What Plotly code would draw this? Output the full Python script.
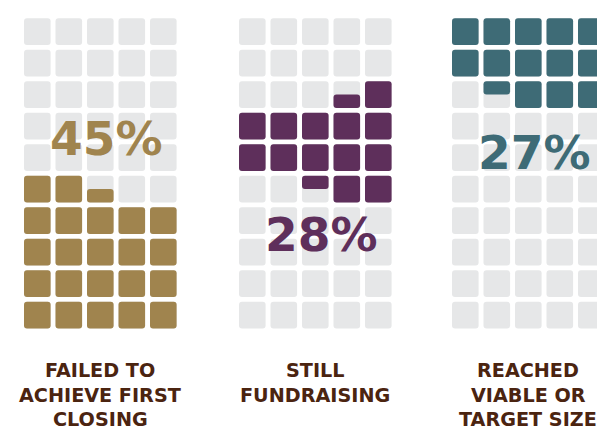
import plotly.graph_objects as go

# data
categories = ["FAILED TO<br>ACHIEVE FIRST<br>CLOSING", "STILL<br>FUNDRAISING", "REACHED<br>VIABLE OR<br>TARGET SIZE"]
percents = [45, 28, 27]
pct_labels = ["45%", "28%", "27%"]
colors = ["#A0844E", "#5E2F5B", "#3E6B76"]
snake_rows = [False, True, False]   # fill direction of the rows in each waffle

EMPTY = "#E6E7E8"
TEXT = "#4B2410"

# waffle geometry (px on the page)
N_COLS, N_ROWS = 5, 10
PITCH = 31.5
CELL = 26.6
RAD = 3
GRID_LEFT = [24, 239, 452]
GRID_TOP = 18.3
PCT_Y = [138, 234, 152.5]
LABEL_Y0 = 370.5
LABEL_STEP = 24.6
BODY = 8   # default page margin around the plot div


def rrect(x0, y0, x1, y1, r):
    r = min(r, (x1 - x0) / 2, (y1 - y0) / 2)
    return (f"M {x0+r},{y0} L {x1-r},{y0} Q {x1},{y0} {x1},{y0+r} "
            f"L {x1},{y1-r} Q {x1},{y1} {x1-r},{y1} L {x0+r},{y1} "
            f"Q {x0},{y1} {x0},{y1-r} L {x0},{y0+r} Q {x0},{y0} {x0+r},{y0} Z")


fig = go.Figure()
shapes = []
annotations = []

start = 0.0
for g, pct in enumerate(percents):
    s = start / 2.0            # one cell = 2 %
    e = (start + pct) / 2.0
    start += pct
    left = GRID_LEFT[g]
    for k in range(N_COLS * N_ROWS):
        r = k // N_COLS                      # row counted from the bottom
        p = k % N_COLS
        col = (N_COLS - 1 - p) if (snake_rows[g] and r % 2 == 1) else p
        x0 = left + col * PITCH
        x1 = x0 + CELL
        y_bot = GRID_TOP + (N_ROWS - 1 - r) * PITCH + CELL
        y_top = y_bot - CELL
        shapes.append(dict(type="path", path=rrect(x0, y_top, x1, y_bot, RAD),
                           xref="x", yref="y", fillcolor=EMPTY, line_width=0, layer="below"))
        lo = max(k, s) - k
        hi = min(k + 1, e) - k
        if hi > lo:
            shapes.append(dict(type="path",
                               path=rrect(x0, y_bot - hi * CELL, x1, y_bot - lo * CELL, RAD),
                               xref="x", yref="y", fillcolor=colors[g], line_width=0, layer="below"))

    cx = left + ((N_COLS - 1) * PITCH + CELL) / 2
    annotations.append(dict(x=cx + 6, y=PCT_Y[g], xref="x", yref="y", text=pct_labels[g],
                            showarrow=False, xanchor="center", yanchor="middle",
                            font=dict(family="DejaVu Sans", size=47, color=colors[g], weight="bold")))
    for i, line in enumerate(categories[g].split("<br>")):
        annotations.append(dict(x=cx, y=LABEL_Y0 + i * LABEL_STEP, xref="x", yref="y", text=line,
                                showarrow=False, xanchor="center", yanchor="middle",
                                font=dict(family="DejaVu Sans", size=19.2, color=TEXT, weight="bold")))

# invisible trace so the axes exist
fig.add_trace(go.Scatter(x=[BODY, 605], y=[BODY, 433], mode="markers", marker=dict(opacity=0),
                         hoverinfo="skip", showlegend=False))

fig.update_layout(
    width=605, height=433,
    margin=dict(l=0, r=0, t=0, b=0),
    paper_bgcolor="white", plot_bgcolor="white",
    shapes=shapes, annotations=annotations,
    xaxis=dict(range=[BODY, 605 + BODY], visible=False, fixedrange=True),
    yaxis=dict(range=[433 + BODY, BODY], visible=False, fixedrange=True),
    showlegend=False,
)

fig.write_html("out.html")
